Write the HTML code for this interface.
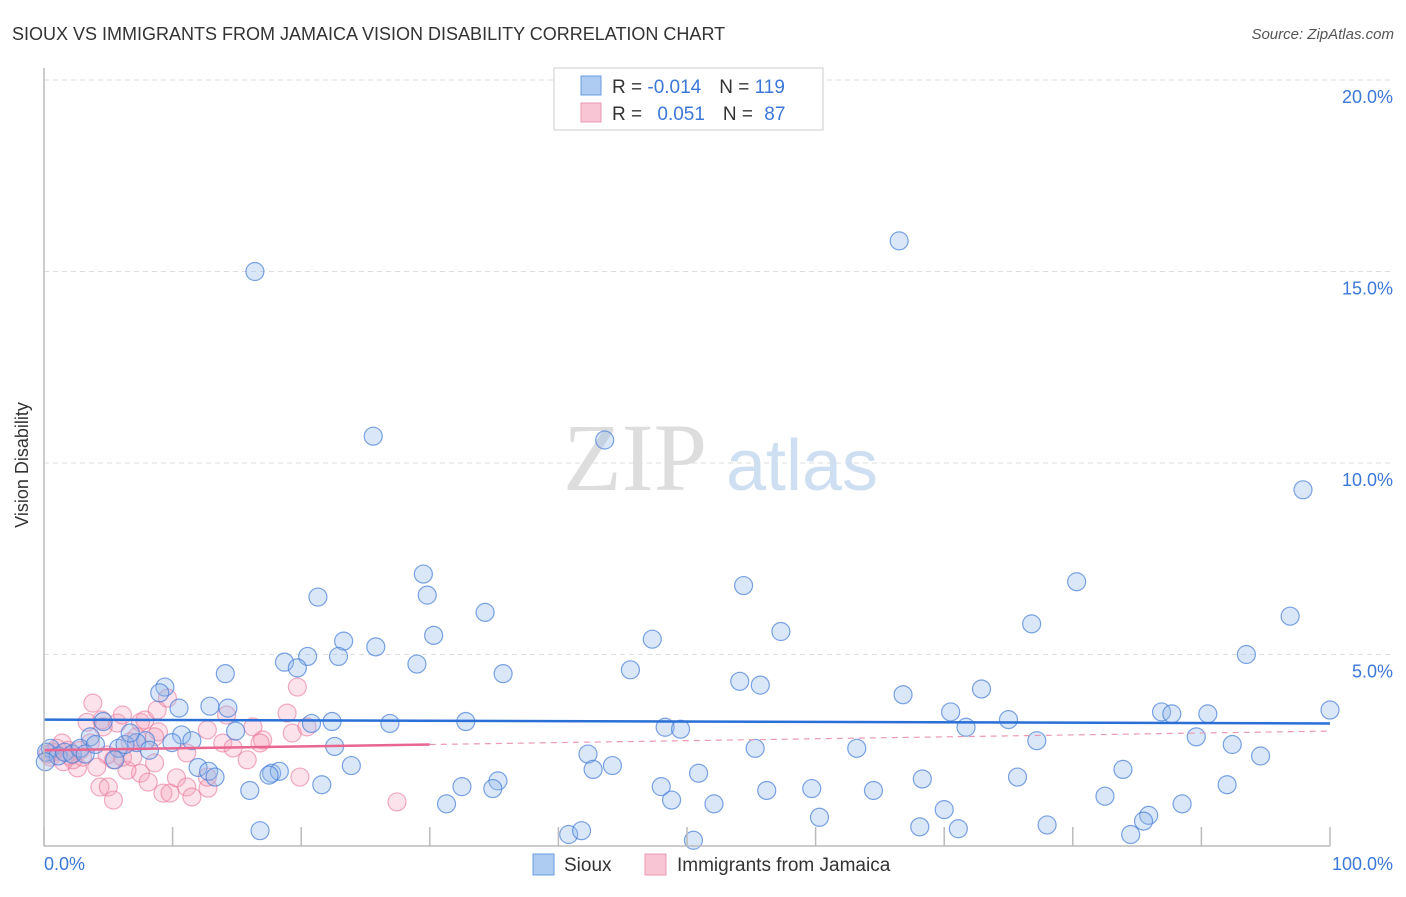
<!DOCTYPE html>
<html><head><meta charset="utf-8"><style>
body{margin:0;background:#fff;font-family:"Liberation Sans",sans-serif;}
svg text{font-family:"Liberation Sans",sans-serif;}
</style></head><body>
<svg width="1406" height="892" viewBox="0 0 1406 892" xmlns="http://www.w3.org/2000/svg">
<text x="12" y="40" font-size="18" fill="#333">SIOUX VS IMMIGRANTS FROM JAMAICA VISION DISABILITY CORRELATION CHART</text>
<text x="1394" y="39" font-size="15" fill="#555" text-anchor="end" font-style="italic">Source: ZipAtlas.com</text>
<g id="grid"></g>
<text x="635" y="490" font-size="96" fill="#ddd" text-anchor="middle" font-family="Liberation Serif" style="font-family:'Liberation Serif',serif">ZIP</text>
<text x="802" y="490" font-size="72" fill="#cfdff2" text-anchor="middle">atlas</text>
<g id="pts"></g>
<g id="trend"></g>
<g id="axes"></g>
<text x="18" y="455" font-size="18" fill="#333" text-anchor="middle" transform="rotate(-90 28 455)">Vision Disability</text>
<text x="44" y="870" font-size="18" fill="#3b78d8">0.0%</text>
<text x="1393" y="870" font-size="18" fill="#3b78d8" text-anchor="end">100.0%</text>
<g>
<rect x="554" y="68" width="269" height="62" fill="#fff" stroke="#ccc"/>
<rect x="581" y="76" width="20" height="19" fill="#aecbf1" stroke="#6a9ce0"/>
<rect x="581" y="103" width="20" height="19" fill="#f8c5d4" stroke="#e99ab2"/>
<text x="612" y="93" font-size="19" fill="#333">R = <tspan fill="#3b78d8">-0.014</tspan><tspan dx="18">N = </tspan><tspan fill="#3b78d8">119</tspan></text>
<text x="612" y="120" font-size="19" fill="#333">R = <tspan fill="#3b78d8" dx="10">0.051</tspan><tspan dx="18">N = </tspan><tspan fill="#3b78d8" dx="6">87</tspan></text>
</g>
<g>
<rect x="533" y="854" width="21" height="21" fill="#aecbf1" stroke="#6a9ce0"/>
<text x="564" y="871" font-size="19" fill="#333">Sioux</text>
<rect x="645" y="854" width="21" height="21" fill="#f8c5d4" stroke="#e99ab2"/>
<text x="677" y="871" font-size="19" fill="#333">Immigrants from Jamaica</text>
</g>
</svg>
<script>
const yTicks=[5,10,15,20];
const yTickLabels=["5.0%","10.0%","15.0%","20.0%"];
const xTicks=[0,10,20,30,40,50,60,70,80,90,100];
const siouxX=[16.4,66.5,25.6,43.6,97.9,29.5,80.3,54.4,21.3,29.8,34.3,96.9,30.3,76.8,57.3,47.3,23.3,25.8,93.5,20.5,22.9,18.7,19.7,29.0,45.6,14.1,35.7,54.1,55.7,72.9,9.4,9.0,66.8,10.5,12.9,14.3,70.5,86.9,87.7,90.5,100,22.4,20.8,26.9,32.8,75.0,48.3,49.5,71.7,14.9,4.6,10.7,11.5,7.9,89.6,77.2,92.4,3.6,7.2,22.6,55.3,63.2,9.95,8.2,42.3,94.6,5.8,5.5,23.9,44.2,42.7,11.98,12.8,13.3,17.7,18.3,17.5,83.9,50.9,75.7,68.3,35.3,92.0,21.6,48.0,32.5,34.9,16.0,56.2,59.7,64.5,82.5,48.8,52.1,31.3,88.5,70.0,85.9,85.5,60.3,78.0,68.1,71.1,84.5,16.8,40.8,41.8,50.5,0.5,0.2,1.1,1.6,2.2,2.8,3.2,4.0,6.3,6.7,0.1];
const siouxY=[15.0,15.8,10.7,10.6,9.3,7.1,6.9,6.8,6.5,6.55,6.1,6.0,5.5,5.8,5.6,5.4,5.35,5.2,5.0,4.95,4.95,4.8,4.65,4.75,4.6,4.5,4.5,4.3,4.2,4.1,4.15,4.0,3.95,3.6,3.65,3.6,3.5,3.5,3.45,3.45,3.55,3.25,3.2,3.2,3.25,3.3,3.1,3.05,3.1,3.0,3.25,2.9,2.75,2.75,2.85,2.75,2.65,2.85,2.7,2.6,2.55,2.55,2.7,2.5,2.4,2.35,2.55,2.25,2.1,2.1,2.0,2.05,1.95,1.8,1.9,1.95,1.85,2.0,1.9,1.8,1.75,1.7,1.6,1.6,1.55,1.55,1.5,1.45,1.45,1.5,1.45,1.3,1.2,1.1,1.1,1.1,0.95,0.8,0.65,0.75,0.55,0.5,0.45,0.3,0.4,0.3,0.4,0.15,2.55,2.45,2.35,2.45,2.4,2.55,2.4,2.65,2.65,2.95,2.2];
const jamX=[3.8,3.35,4.5,5.7,6.1,7.5,7.85,8.8,9.6,8.9,8.6,6.7,7.2,5.4,4.9,4.1,2.6,4.35,5.0,5.4,7.5,8.1,9.25,9.8,10.3,11.1,11.5,12.75,12.7,11.1,8.6,6.45,12.7,13.9,14.7,15.8,14.2,16.25,17.0,16.8,18.9,19.3,20.45,19.7,19.9,27.45,1.9,1.4,0.7,0.5,2.25,3.6,4.6,3.0,6.1,6.9,0.3,1.0,2.0,2.8,1.5];
const jamY=[3.73,3.23,3.29,3.21,3.42,3.23,3.29,3.55,3.86,2.98,2.85,2.72,2.85,2.25,2.38,2.06,2.04,1.54,1.54,1.2,1.9,1.67,1.38,1.38,1.78,1.54,1.28,1.51,1.8,2.43,2.17,1.98,3.03,2.69,2.56,2.25,3.42,3.11,2.77,2.69,3.47,2.95,3.11,4.15,1.8,1.15,2.5,2.69,2.45,2.32,2.25,2.69,3.11,2.32,2.32,2.32,2.4,2.55,2.35,2.5,2.2];
const siouxTrend=[3.3,3.2];   // y at x=0, x=100
const jamTrend=[2.5,3.0];    // y at x=0, x=100
const jamSolidEnd=30;
const NS="http://www.w3.org/2000/svg";
const X0=44,X1=1330,Y0=846,PER=38.3;
const sx=v=>X0+(X1-X0)*v/100;
const sy=v=>Y0-v*PER;
function mk(tag,attrs,parent){const e=document.createElementNS(NS,tag);for(const k in attrs)e.setAttribute(k,attrs[k]);parent.appendChild(e);return e;}
const grid=document.getElementById('grid');
yTicks.forEach((t,i)=>{
  const l=mk('line',{x1:X0,x2:1394,y1:sy(t),y2:sy(t),stroke:'#ddd','stroke-dasharray':'5,4'},grid);
  
  
  const tx=mk('text',{x:1393,y:sy(t)+23,'font-size':18,fill:'#3b78d8','text-anchor':'end'},grid);
  tx.textContent=yTickLabels[i];
  
  
});
const axes=document.getElementById('axes');
mk('line',{x1:X0,x2:X0,y1:68,y2:Y0,stroke:'#bbb','stroke-width':1.5},axes);
mk('line',{x1:X0,x2:X1,y1:Y0,y2:Y0,stroke:'#bbb','stroke-width':1.5},axes);
xTicks.forEach(t=>{
  const l=mk('line',{x1:sx(t),x2:sx(t),y1:Y0-19,y2:Y0,stroke:'#bbb','stroke-width':1.5},axes);
  
  
});
const pts=document.getElementById('pts');
jamX.forEach((x,i)=>{
  const c=mk('circle',{cx:sx(x),cy:sy(jamY[i]),r:9,fill:'rgba(244,160,185,0.3)',stroke:'rgba(232,120,155,0.6)','stroke-width':1.2},pts);
  
  
});
siouxX.forEach((x,i)=>{
  const c=mk('circle',{cx:sx(x),cy:sy(siouxY[i]),r:9,fill:'rgba(150,185,235,0.35)',stroke:'rgba(70,125,215,0.7)','stroke-width':1.2},pts);
  
  
});
const tr=document.getElementById('trend');
const b=mk('line',{x1:sx(0),y1:sy(siouxTrend[0]),x2:sx(100),y2:sy(siouxTrend[1]),stroke:'#2a6fd6','stroke-width':2.5},tr);


const jy=x=>jamTrend[0]+(jamTrend[1]-jamTrend[0])*x/100;
const p1=mk('line',{x1:sx(0),y1:sy(jy(0)),x2:sx(jamSolidEnd),y2:sy(jy(jamSolidEnd)),stroke:'#e86690','stroke-width':2.5},tr);


const p2=mk('line',{x1:sx(jamSolidEnd),y1:sy(jy(jamSolidEnd)),x2:sx(100),y2:sy(jy(100)),stroke:'#e99ab2','stroke-width':1.2,'stroke-dasharray':'6,5'},tr);


</script>
</body></html>
